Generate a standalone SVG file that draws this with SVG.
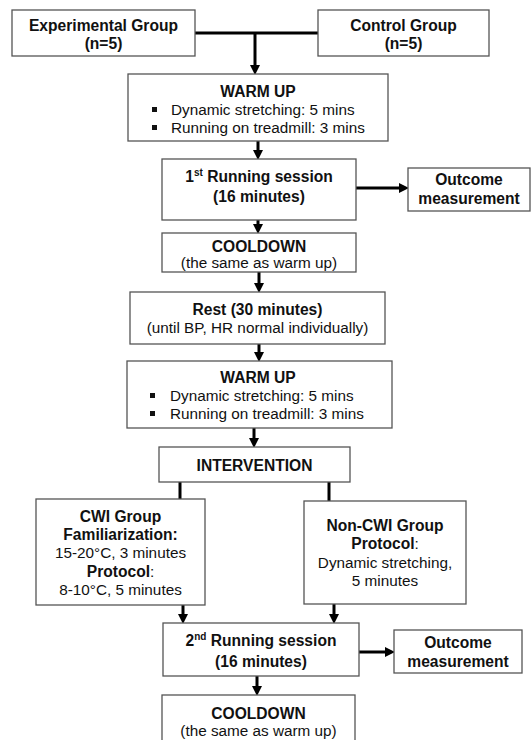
<svg xmlns="http://www.w3.org/2000/svg" width="531" height="740" viewBox="0 0 531 740">
<style>
.box{fill:#fff;stroke:#555;stroke-width:1.3}
text{font-family:"Liberation Sans",Arial,sans-serif;font-size:15.3px;fill:#111;text-anchor:middle}
.b{font-weight:bold;font-size:15.6px}
.l{text-anchor:start}
.sup{font-size:10px}
.c{stroke:#000;stroke-width:3;fill:none}
.ca{stroke:#000;stroke-width:3;fill:none;marker-end:url(#ah)}
.bul{fill:#111}
</style>
<defs>
<marker id="ah" markerUnits="userSpaceOnUse" markerWidth="11" markerHeight="10" refX="0" refY="5" orient="auto">
<path d="M0,0 L10,5 L0,10 z" fill="#000"/>
</marker>
</defs>
<rect width="531" height="740" fill="#fff"/>
<g id="connectors">
<path class="c" d="M195,33 H318"/>
<path class="ca" d="M255,33 V65"/>
<path class="ca" d="M258,141 V150"/>
<path class="ca" d="M356,188 H399"/>
<path class="ca" d="M258,220 V224"/>
<path class="ca" d="M259,272 V283"/>
<path class="ca" d="M259,344 V352"/>
<path class="ca" d="M254,428 V438"/>
<path class="c" d="M180,482 V499"/>
<path class="c" d="M329,482 V501"/>
<path class="ca" d="M183,605 V614"/>
<path class="ca" d="M334,604 V614"/>
<path class="ca" d="M359,652 H385"/>
<path class="ca" d="M257,676 V686"/>
</g>
<g id="experimental">
<rect class="box" x="12" y="10" width="183" height="46"/>
<text class="b" x="103.5" y="31">Experimental Group</text>
<text class="b" x="103.5" y="49">(n=5)</text>
</g>
<g id="control">
<rect class="box" x="318" y="10" width="171" height="46"/>
<text class="b" x="403.5" y="31">Control Group</text>
<text class="b" x="403.5" y="49">(n=5)</text>
</g>
<g id="warmup1">
<rect class="box" x="128" y="74" width="260" height="67"/>
<text class="b" x="258" y="97">WARM UP</text>
<rect class="bul" x="152" y="107" width="5" height="5"/>
<text class="l" x="171" y="115">Dynamic stretching: 5 mins</text>
<rect class="bul" x="152" y="125" width="5" height="5"/>
<text class="l" x="171" y="133">Running on treadmill: 3 mins</text>
</g>
<g id="run1">
<rect class="box" x="162" y="159" width="194" height="61"/>
<text class="b" x="259" y="182">1<tspan class="sup" dy="-6">st</tspan><tspan dy="6"> Running session</tspan></text>
<text class="b" x="259" y="202">(16 minutes)</text>
</g>
<g id="outcome1">
<rect class="box" x="408" y="168" width="122" height="43"/>
<text class="b" x="469" y="185">Outcome</text>
<text class="b" x="469" y="204">measurement</text>
</g>
<g id="cooldown1">
<rect class="box" x="162" y="233" width="194" height="39"/>
<text class="b" x="259" y="252">COOLDOWN</text>
<text x="259" y="268">(the same as warm up)</text>
</g>
<g id="rest">
<rect class="box" x="130" y="292" width="255" height="52"/>
<text class="b" x="257.5" y="315">Rest (30 minutes)</text>
<text x="257.5" y="333">(until BP, HR normal individually)</text>
</g>
<g id="warmup2">
<rect class="box" x="127" y="361" width="265" height="67"/>
<text class="b" x="258" y="383">WARM UP</text>
<rect class="bul" x="150" y="393" width="5" height="5"/>
<text class="l" x="170" y="401">Dynamic stretching: 5 mins</text>
<rect class="bul" x="150" y="411" width="5" height="5"/>
<text class="l" x="170" y="419">Running on treadmill: 3 mins</text>
</g>
<g id="intervention">
<rect class="box" x="159" y="447" width="191" height="35"/>
<text class="b" x="254.5" y="471">INTERVENTION</text>
</g>
<g id="cwi">
<rect class="box" x="36" y="499" width="169" height="106"/>
<text class="b" x="120.5" y="522">CWI Group</text>
<text class="b" x="120.5" y="540">Familiarization:</text>
<text x="120.5" y="558">15-20°C, 3 minutes</text>
<text x="120.5" y="577"><tspan class="b">Protocol</tspan>:</text>
<text x="120.5" y="595">8-10°C, 5 minutes</text>
</g>
<g id="noncwi">
<rect class="box" x="304" y="501" width="162" height="103"/>
<text class="b" x="385" y="531">Non-CWI Group</text>
<text x="385" y="549"><tspan class="b">Protocol</tspan>:</text>
<text x="385" y="568">Dynamic stretching,</text>
<text x="385" y="586">5 minutes</text>
</g>
<g id="run2">
<rect class="box" x="163" y="623" width="196" height="53"/>
<text class="b" x="261" y="646">2<tspan class="sup" dy="-6">nd</tspan><tspan dy="6"> Running session</tspan></text>
<text class="b" x="261" y="667">(16 minutes)</text>
</g>
<g id="outcome2">
<rect class="box" x="394" y="630" width="128" height="43"/>
<text class="b" x="458" y="648">Outcome</text>
<text class="b" x="458" y="667">measurement</text>
</g>
<g id="cooldown2">
<rect class="box" x="162" y="695" width="193" height="50"/>
<text class="b" x="258.5" y="719">COOLDOWN</text>
<text x="258.5" y="736">(the same as warm up)</text>
</g>
</svg>
